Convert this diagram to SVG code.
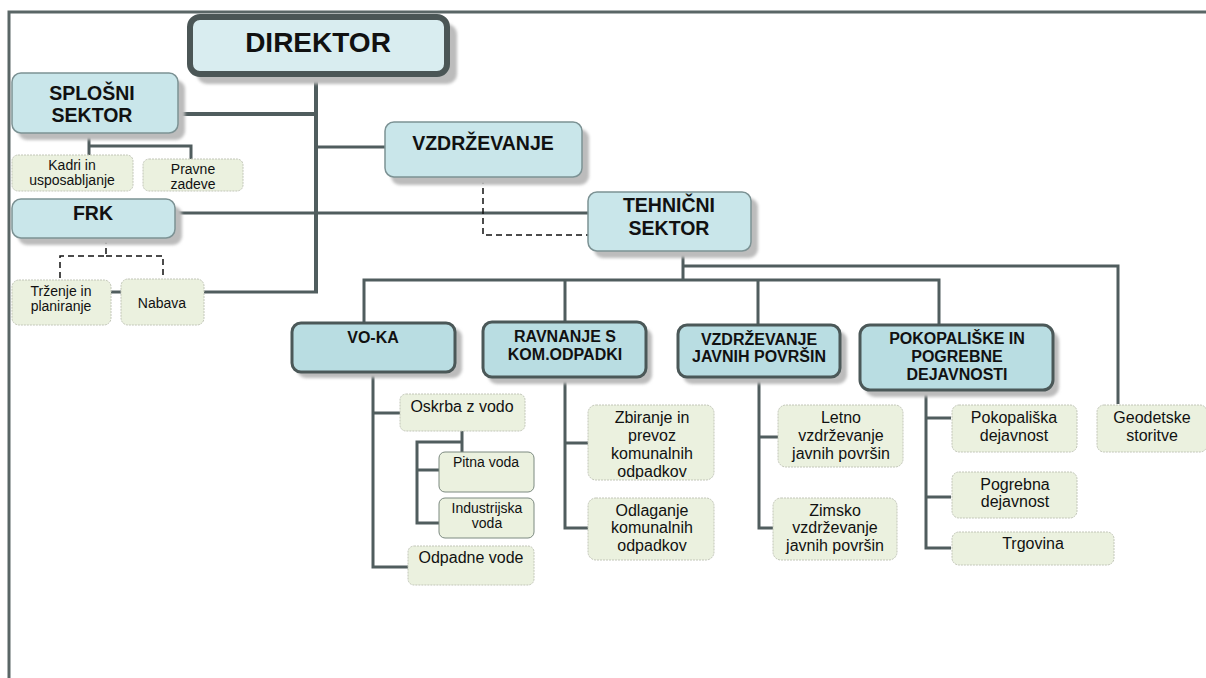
<svg xmlns="http://www.w3.org/2000/svg" width="1206" height="678" viewBox="0 0 1206 678">
<style>
text{font-family:"Liberation Sans",Arial,sans-serif;fill:#111;text-anchor:middle}
.h0{font-size:28px;font-weight:bold}
.h1{font-size:19.5px;font-weight:bold}
.h2{font-size:16px;font-weight:bold}
.s14{font-size:14px}
.s16{font-size:16px}
.frame{fill:none;stroke:#5a6666;stroke-width:3}
.ln{fill:none;stroke:#505d5e;stroke-width:3}
.lnb{fill:none;stroke:#505d5e;stroke-width:4}
.dash{fill:none;stroke:#111;stroke-width:1.5;stroke-dasharray:6 4}
.b0{fill:#d9edf0;stroke:#4b5656;stroke-width:6}
.b1{fill:#c9e6ea;stroke:#7c9294;stroke-width:1.5}
.b2{fill:#b9dde2;stroke:#4b5858;stroke-width:3}
.sm{fill:#ebf1df;stroke:#c2c6b8;stroke-width:1;stroke-dasharray:2 1}
.sh{fill:#bcbcbc;filter:url(#blur)}
</style>
<defs>
<filter id="blur" x="-10%" y="-10%" width="120%" height="130%"><feGaussianBlur stdDeviation="1.5"/></filter>
<clipPath id="clipZb"><rect x="588" y="405" width="126" height="74"/></clipPath>
</defs>
<rect width="1206" height="678" fill="#fff"/>
<path class="frame" d="M9,678 V12 H1206"/>

<g id="connectors">
<path class="lnb" d="M316,77 V293"/>
<path class="lnb" d="M179,114 H316"/>
<path class="ln" d="M316,147 H385"/>
<path class="ln" d="M175,213 H588"/>
<path class="ln" d="M204,292 H318"/>
<path class="ln" d="M111,292 H121"/>
<path class="ln" d="M89,133 V155 M89,146 H191 V159"/>
<path class="dash" d="M106,238 V256 H60 V280 M106,256 H163 V279"/>
<path class="dash" d="M483,178 V235 H588"/>
<path class="ln" d="M683,251 V280 M683,266 H1118 V404 M364,322 V280 H939 V325 M565,280 V322 M758,280 V325"/>
<path class="ln" d="M373,372 V567 H408 M373,413 H400"/>
<path class="ln" d="M462,431 V452 M462,442 H417 V523 H439 M417,470 H439"/>
<path class="ln" d="M565,377 V528 H588 M565,443 H588"/>
<path class="ln" d="M759,377 V528 H773 M759,437 H778"/>
<path class="ln" d="M926,390 V548 H951 M926,418 H951 M926,497 H951"/>
</g>

<g id="direktor">
<rect class="sh" x="197" y="24" width="260" height="60" rx="10"/>
<rect class="b0" x="190" y="17" width="257" height="57" rx="10"/>
<text class="h0" x="318" y="52">DIREKTOR</text>
</g>

<g id="splosni">
<rect class="sh" x="18" y="80" width="167" height="60" rx="9"/>
<rect class="b1" x="12" y="73" width="166" height="60" rx="9"/>
<text class="h1" x="92" y="100">SPLOŠNI</text>
<text class="h1" x="92" y="122">SEKTOR</text>
</g>

<g id="kadri">
<rect class="sm" x="12" y="155" width="121" height="36" rx="6"/>
<text class="s14" x="72" y="170">Kadri in</text>
<text class="s14" x="72" y="185">usposabljanje</text>
</g>

<g id="pravne">
<rect class="sm" x="143" y="159" width="100" height="32" rx="6"/>
<text class="s14" x="193" y="174">Pravne</text>
<text class="s14" x="193" y="189">zadeve</text>
</g>

<g id="frk">
<rect class="sh" x="18" y="206" width="164" height="39" rx="9"/>
<rect class="b1" x="12" y="199" width="163" height="39" rx="9"/>
<text class="h1" x="93" y="220">FRK</text>
</g>

<g id="trzenje">
<rect class="sm" x="12" y="280" width="99" height="45" rx="7"/>
<text class="s14" x="61" y="296">Trženje in</text>
<text class="s14" x="61" y="311">planiranje</text>
</g>

<g id="nabava">
<rect class="sm" x="121" y="279" width="83" height="46" rx="7"/>
<text class="s14" x="162" y="308">Nabava</text>
</g>

<g id="vzdrzevanje">
<rect class="sh" x="391" y="129" width="198" height="56" rx="9"/>
<rect class="b1" x="385" y="122" width="197" height="55" rx="9"/>
<text class="h1" x="483" y="150">VZDRŽEVANJE</text>
</g>

<g id="tehnicni">
<rect class="sh" x="594" y="198" width="164" height="60" rx="9"/>
<rect class="b1" x="588" y="192" width="163" height="59" rx="9"/>
<text class="h1" x="669" y="212">TEHNIČNI</text>
<text class="h1" x="669" y="235">SEKTOR</text>
</g>

<g id="voka">
<rect class="sh" x="297" y="328" width="165" height="50" rx="9"/>
<rect class="b2" x="292" y="323" width="163" height="49" rx="9"/>
<text class="h2" x="373" y="343">VO-KA</text>
</g>

<g id="oskrba">
<rect class="sm" x="400" y="394" width="125" height="37" rx="6"/>
<text class="s16" x="462" y="412">Oskrba z vodo</text>
</g>

<g id="pitna">
<rect class="b1" style="fill:#ebf1df;stroke:#7c8a80;stroke-width:1" x="439" y="452" width="95" height="40" rx="6"/>
<text class="s14" x="486" y="467">Pitna voda</text>
</g>

<g id="industrijska">
<rect class="b1" style="fill:#ebf1df;stroke:#7c8a80;stroke-width:1" x="439" y="498" width="95" height="40" rx="6"/>
<text class="s14" x="487" y="513">Industrijska</text>
<text class="s14" x="487" y="528">voda</text>
</g>

<g id="odpadne">
<rect class="sm" x="408" y="546" width="126" height="39" rx="6"/>
<text class="s16" x="471" y="563">Odpadne vode</text>
</g>

<g id="ravnanje">
<rect class="sh" x="488" y="328" width="164" height="56" rx="9"/>
<rect class="b2" x="483" y="322" width="163" height="55" rx="9"/>
<text class="h2" x="565" y="342">RAVNANJE S</text>
<text class="h2" x="565" y="360">KOM.ODPADKI</text>
</g>

<g id="zbiranje">
<rect class="sm" x="588" y="405" width="126" height="75" rx="8"/>
<g clip-path="url(#clipZb)">
<text class="s16" x="652" y="423">Zbiranje in</text>
<text class="s16" x="652" y="441">prevoz</text>
<text class="s16" x="652" y="459">komunalnih</text>
<text class="s16" x="652" y="477">odpadkov</text>
</g>
</g>

<g id="odlaganje">
<rect class="sm" x="588" y="498" width="126" height="62" rx="8"/>
<text class="s16" x="652" y="516">Odlaganje</text>
<text class="s16" x="652" y="533">komunalnih</text>
<text class="s16" x="652" y="551">odpadkov</text>
</g>

<g id="vzd-javnih">
<rect class="sh" x="683" y="331" width="164" height="53" rx="9"/>
<rect class="b2" x="678" y="325" width="162" height="52" rx="9"/>
<text class="h2" x="759" y="345">VZDRŽEVANJE</text>
<text class="h2" x="759" y="362">JAVNIH POVRŠIN</text>
</g>

<g id="letno">
<rect class="sm" x="778" y="405" width="125" height="62" rx="8"/>
<text class="s16" x="841" y="423">Letno</text>
<text class="s16" x="841" y="441">vzdrževanje</text>
<text class="s16" x="841" y="459">javnih površin</text>
</g>

<g id="zimsko">
<rect class="sm" x="773" y="498" width="124" height="62" rx="8"/>
<text class="s16" x="835" y="516">Zimsko</text>
<text class="s16" x="835" y="533">vzdrževanje</text>
<text class="s16" x="835" y="551">javnih površin</text>
</g>

<g id="pokopaliske">
<rect class="sh" x="865" y="331" width="194" height="66" rx="10"/>
<rect class="b2" x="860" y="325" width="193" height="65" rx="10"/>
<text class="h2" x="957" y="344">POKOPALIŠKE IN</text>
<text class="h2" x="957" y="362">POGREBNE</text>
<text class="h2" x="957" y="380">DEJAVNOSTI</text>
</g>

<g id="pokopaliska-dej">
<rect class="sm" x="952" y="405" width="125" height="47" rx="7"/>
<text class="s16" x="1014" y="423">Pokopališka</text>
<text class="s16" x="1014" y="441">dejavnost</text>
</g>

<g id="pogrebna">
<rect class="sm" x="952" y="472" width="125" height="46" rx="7"/>
<text class="s16" x="1015" y="490">Pogrebna</text>
<text class="s16" x="1015" y="507">dejavnost</text>
</g>

<g id="trgovina">
<rect class="sm" x="952" y="532" width="162" height="33" rx="7"/>
<text class="s16" x="1033" y="549">Trgovina</text>
</g>

<g id="geodetske">
<rect class="sm" x="1097" y="405" width="110" height="47" rx="7"/>
<text class="s16" x="1152" y="423">Geodetske</text>
<text class="s16" x="1152" y="441">storitve</text>
</g>
</svg>
